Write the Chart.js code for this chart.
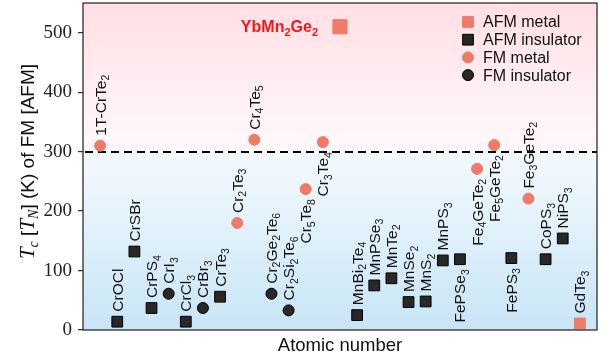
<!DOCTYPE html>
<html>
<head>
<meta charset="utf-8">
<script src="https://cdn.jsdelivr.net/npm/chart.js@4/dist/chart.umd.min.js"></script>
<style>
  html, body { margin: 0; padding: 0; background: #ffffff; }
  #wrap { width: 606px; height: 360px; position: relative; }
</style>
</head>
<body>
<div id="wrap"><canvas id="chart"></canvas></div>
<script>
// Magnetic materials ordered along the x axis; "_n" marks a subscript.
const materials = [
  '1T-CrTe_2', 'CrOCl', 'CrSBr', 'CrPS_4', 'CrI_3', 'CrCl_3', 'CrBr_3', 'CrTe_3',
  'Cr_2Te_3', 'Cr_4Te_5', 'Cr_2Ge_2Te_6', 'Cr_2Si_2Te_6', 'Cr_5Te_8', 'Cr_3Te_4',
  'YbMn_2Ge_2', 'MnBi_2Te_4', 'MnPSe_3', 'MnTe_2', 'MnSe_2', 'MnS_2', 'MnPS_3',
  'FePSe_3', 'Fe_4GeTe_2', 'Fe_5GeTe_2', 'FePS_3', 'Fe_3GeTe_2', 'CoPS_3', 'NiPS_3', 'GdTe_3'
];
const atomicOrder = [1, 2, 3, 4, 5, 6, 7, 8, 9, 10, 11, 12, 13, 14, 15, 16, 17, 18, 19, 20,
  21, 22, 23, 24, 25, 26, 27, 28, 29];
// Tc (FM) or TN (AFM) in kelvin
const orderingTemps = [310, 14, 132, 37, 61, 14, 37, 56, 180, 320, 61, 33, 237, 316,
  510, 25, 75, 87, 47, 48, 117, 119, 271, 311, 121, 221, 119, 154, 11];
const phases = [
  'FM metal', 'AFM insulator', 'AFM insulator', 'AFM insulator', 'FM insulator',
  'AFM insulator', 'FM insulator', 'AFM insulator', 'FM metal', 'FM metal',
  'FM insulator', 'FM insulator', 'FM metal', 'FM metal', 'AFM metal',
  'AFM insulator', 'AFM insulator', 'AFM insulator', 'AFM insulator', 'AFM insulator',
  'AFM insulator', 'AFM insulator', 'FM metal', 'FM metal', 'AFM insulator',
  'FM metal', 'AFM insulator', 'AFM insulator', 'AFM metal'
];
const phaseOrder = ['AFM metal', 'AFM insulator', 'FM metal', 'FM insulator'];
const labelsBelow = ['Cr_5Te_8', 'Cr_3Te_4', 'FePSe_3', 'Fe_4GeTe_2', 'Fe_5GeTe_2', 'FePS_3'];
const highlighted = 'YbMn_2Ge_2';
const yTicks = [0, 100, 200, 300, 400, 500];
const roomTemperature = 300;

const SALMON = 'rgb(240,122,104)';
const DARK = 'rgb(40,40,40)';
const SANS = '"Liberation Sans", Arial, sans-serif';
const SERIF = '"Liberation Serif", "DejaVu Serif", serif';

const phaseStyle = {
  'AFM metal':     { color: SALMON, border: SALMON, shape: 'rect' },
  'AFM insulator': { color: DARK, border: '#000', shape: 'rect' },
  'FM metal':      { color: SALMON, border: SALMON, shape: 'circle' },
  'FM insulator':  { color: DARK, border: '#000', shape: 'circle' }
};

const datasets = phaseOrder.map(ph => {
  const st = phaseStyle[ph];
  const pts = [];
  materials.forEach((m, i) => {
    if (phases[i] === ph) pts.push({ x: atomicOrder[i], y: orderingTemps[i], name: m });
  });
  return {
    label: ph,
    data: pts,
    showLine: false,
    clip: false,
    pointStyle: st.shape,
    backgroundColor: st.color,
    borderColor: st.border,
    borderWidth: 1,
    pointRadius: ctx => {
      const raw = ctx.raw || {};
      if (raw.name === highlighted) return 10;
      return st.shape === 'rect' ? 7.6 : 5.5;
    }
  };
});

// split "Cr_2Te_3" into normal / subscript runs
function parseRich(s) {
  const out = [];
  const re = /_(\d+)|[^_]+/g;
  let m;
  while ((m = re.exec(s)) !== null) {
    if (m[1] !== undefined) out.push({ t: m[1], sub: true });
    else out.push({ t: m[0], sub: false });
  }
  return out;
}

function richWidth(ctx, segs, mainFont, subFont) {
  let w = 0;
  segs.forEach(sg => { ctx.font = sg.sub ? subFont : mainFont; w += ctx.measureText(sg.t).width; });
  return w;
}

// draws runs starting at x along the baseline y (in the current transform)
function drawRich(ctx, segs, x, y, mainFont, subFont, subDrop) {
  segs.forEach(sg => {
    ctx.font = sg.sub ? subFont : mainFont;
    ctx.fillText(sg.t, x, sg.sub ? y + subDrop : y);
    x += ctx.measureText(sg.t).width;
  });
}

const backdrop = {
  id: 'backdrop',
  beforeDraw(chart) {
    const { ctx, chartArea: a, scales: { y } } = chart;
    const yr = y.getPixelForValue(roomTemperature);
    ctx.save();
    let g = ctx.createLinearGradient(0, a.top, 0, yr);
    g.addColorStop(0, 'rgb(255,223,229)');
    g.addColorStop(1, 'rgb(255,249,251)');
    ctx.fillStyle = g;
    ctx.fillRect(a.left, a.top, a.right - a.left, yr - a.top);
    g = ctx.createLinearGradient(0, yr, 0, a.bottom);
    g.addColorStop(0, 'rgb(244,250,254)');
    g.addColorStop(1, 'rgb(200,229,246)');
    ctx.fillStyle = g;
    ctx.fillRect(a.left, yr, a.right - a.left, a.bottom - yr);
    ctx.restore();
  },
  beforeDatasetsDraw(chart) {
    const { ctx, chartArea: a, scales: { y } } = chart;
    const yr = Math.round(y.getPixelForValue(roomTemperature));
    ctx.save();
    ctx.strokeStyle = '#000';
    ctx.lineWidth = 2;
    ctx.setLineDash([8, 5]);
    ctx.beginPath();
    ctx.moveTo(a.left + 2, yr);
    ctx.lineTo(a.right, yr);
    ctx.stroke();
    ctx.restore();
  }
};

const annotate = {
  id: 'annotate',
  afterDatasetsDraw(chart) {
    const { ctx, scales: { x, y } } = chart;
    const mainFont = '15.5px ' + SANS;
    const subFont = '10.5px ' + SANS;
    ctx.save();
    ctx.fillStyle = '#111';
    ctx.textBaseline = 'alphabetic';
    ctx.textAlign = 'left';
    materials.forEach((m, i) => {
      const px = x.getPixelForValue(atomicOrder[i]);
      const py = y.getPixelForValue(orderingTemps[i]);
      const segs = parseRich(m);
      if (m === highlighted) {
        const bf = 'bold 16px ' + SANS, bs = 'bold 11px ' + SANS;
        const w = richWidth(ctx, segs, bf, bs);
        ctx.fillStyle = 'rgb(250,20,20)';
        drawRich(ctx, segs, px - 22 - w, py + 5.5, bf, bs, 3.5);
        ctx.fillStyle = '#111';
        return;
      }
      const w = richWidth(ctx, segs, mainFont, subFont);
      ctx.save();
      ctx.translate(px, py);
      ctx.rotate(-Math.PI / 2);
      // rotated frame: +x points up the page, +y points right
      const start = labelsBelow.includes(m) ? -10 - w : 10;
      drawRich(ctx, segs, start, 5.5, mainFont, subFont, 3.5);
      ctx.restore();
    });
    ctx.restore();
  },
  afterDraw(chart) {
    const { ctx, chartArea: a } = chart;
    ctx.save();
    // frame
    ctx.strokeStyle = 'rgb(45,45,45)';
    ctx.lineWidth = 1.3;
    ctx.strokeRect(a.left, a.top, a.right - a.left, a.bottom - a.top);

    // legend
    const lx = a.right - 129, ly0 = a.top + 19, step = 17.7;
    ctx.textBaseline = 'middle';
    ctx.textAlign = 'left';
    ctx.font = '16px ' + SANS;
    chart.data.datasets.forEach((ds, k) => {
      const yy = ly0 + k * step;
      const st = phaseStyle[ds.label];
      ctx.fillStyle = st.color;
      ctx.strokeStyle = st.border;
      ctx.lineWidth = 1;
      ctx.beginPath();
      if (st.shape === 'rect') { const h = 7.6 * Math.SQRT1_2; ctx.rect(lx - h, yy - h, 2 * h, 2 * h); }
      else ctx.arc(lx, yy, 5.5, 0, Math.PI * 2);
      ctx.fill(); ctx.stroke();
      ctx.fillStyle = '#111';
      ctx.fillText(ds.label, lx + 15, yy + 1);
    });

    // x axis title
    ctx.textAlign = 'center';
    ctx.textBaseline = 'alphabetic';
    ctx.font = '18.5px ' + SANS;
    ctx.fillText('Atomic number', (a.left + a.right) / 2, 351);

    // y axis title: T_c [T_N] (K) of FM [AFM]
    const runs = [
      { t: 'T', f: 'italic 21px ' + SERIF, d: 0 },
      { t: 'c', f: 'italic 14px ' + SERIF, d: 4 },
      { t: ' [', f: '19px ' + SANS, d: 0 },
      { t: 'T', f: 'italic 21px ' + SERIF, d: 0 },
      { t: 'N', f: 'italic 14px ' + SERIF, d: 4 },
      { t: '] (K) of FM [AFM]', f: '19px ' + SANS, d: 0 }
    ];
    let tw = 0;
    runs.forEach(r => { ctx.font = r.f; tw += ctx.measureText(r.t).width; });
    ctx.translate(34, (a.top + a.bottom) / 2 - 5);
    ctx.rotate(-Math.PI / 2);
    ctx.textAlign = 'left';
    let cx = -tw / 2;
    runs.forEach(r => {
      ctx.font = r.f;
      ctx.fillText(r.t, cx, r.d);
      cx += ctx.measureText(r.t).width;
    });
    ctx.restore();
  }
};

new Chart(document.getElementById('chart'), {
  type: 'scatter',
  data: { datasets },
  plugins: [backdrop, annotate],
  options: {
    responsive: true,
    maintainAspectRatio: false,
    animation: false,
    events: [],
    layout: { autoPadding: false, padding: { left: 0, top: 3, right: 9, bottom: 0 } },
    plugins: { legend: { display: false }, tooltip: { enabled: false } },
    scales: {
      x: {
        type: 'linear', min: 0, max: 30,
        grid: { display: false },
        border: { display: false },
        ticks: { display: false },
        afterFit: s => { s.height = 30; s.paddingLeft = 0; s.paddingRight = 0; }
      },
      y: {
        type: 'linear', min: 0, max: 550,
        afterBuildTicks: s => { s.ticks = yTicks.map(v => ({ value: v })); },
        grid: { display: true, drawOnChartArea: false, tickLength: 5, color: 'rgb(45,45,45)', lineWidth: 1.2 },
        border: { display: false },
        ticks: {
          color: '#222', padding: 6,
          font: { family: SERIF, size: 19 }
        },
        afterFit: s => { s.width = 83; s.paddingTop = 0; s.paddingBottom = 0; }
      }
    }
  }
});
</script>
</body>
</html>
